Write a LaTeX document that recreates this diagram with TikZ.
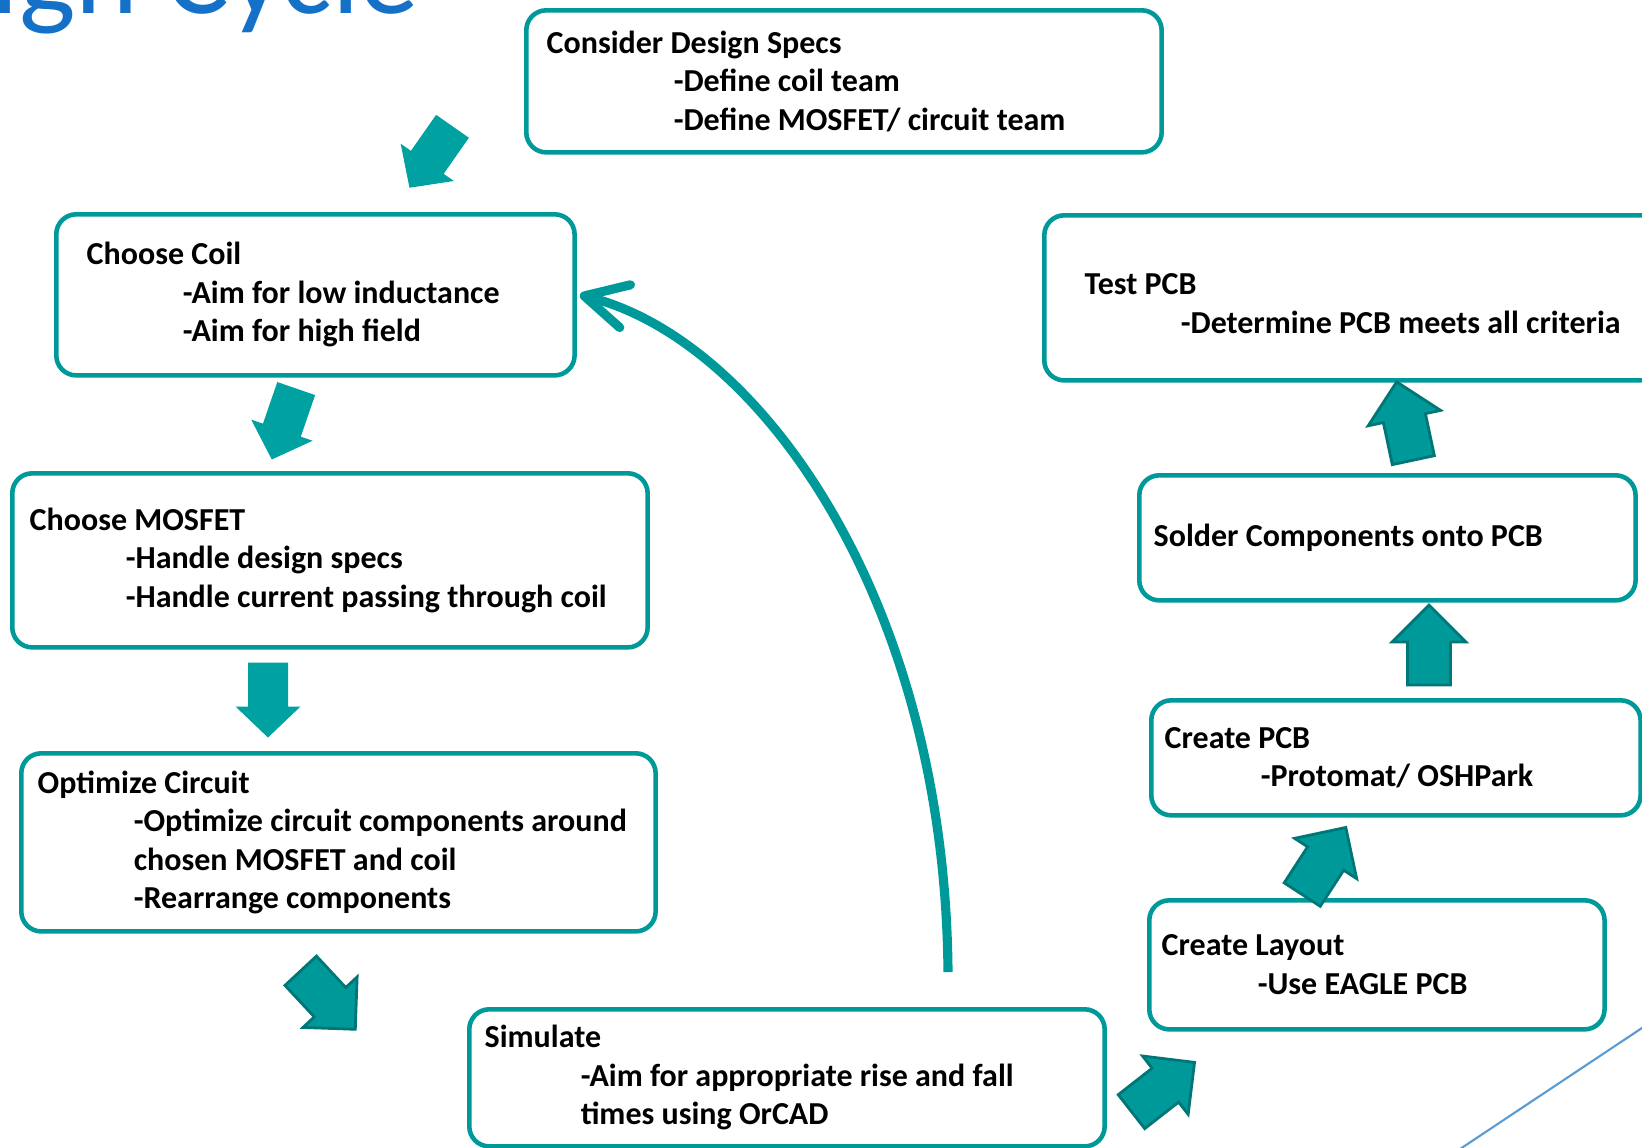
\documentclass[tikz,border=0pt]{standalone}
\usepackage{fontspec}
\setmainfont{Carlito}
\usepackage{tikz}
\usetikzlibrary{arrows.meta}
\usepackage{xcolor}

\definecolor{tealbox}{RGB}{0,153,153}
\definecolor{tealdark}{RGB}{0,118,118}
\definecolor{titleblue}{RGB}{21,112,200}
\definecolor{lineblue}{RGB}{91,155,213}

\newcommand{\ind}{\hspace*{0.96cm}}
% flat block arrow with dark rim
\newcommand{\blockarr}[3]{%
  \draw[blk, shift={(#1,#2)}, rotate=#3] (-40,-21.5) -- (3,-21.5) -- (3,-37) -- (40,0) -- (3,37) -- (3,21.5) -- (-40,21.5) -- cycle;}
% soft block arrow, no rim
\newcommand{\softarr}[3]{%
  \fill[softblk, shift={(#1,#2)}, rotate=#3] (-37.5,-20) -- (6.5,-20) -- (6.5,-32.5) -- (37.5,0) -- (6.5,32.5) -- (6.5,20) -- (-37.5,20) -- cycle;}

\begin{document}
\begin{tikzpicture}[
        x=0.01cm, y=-0.01cm,
        >=Stealth,
        every node/.style={font=\fontsize{9.1}{10.95}\selectfont\bfseries},
        box/.style={draw=tealbox, line width=1.3pt, rounded corners=0.2cm, anchor=north west, inner sep=0pt},
        txt/.style={anchor=west, align=left, inner sep=0pt},
        blk/.style={fill=tealbox, draw=tealdark, line width=0.8pt},
        softblk/.style={fill=tealbox!92!cyan},
        back/.style={draw=tealbox, line width=2.6pt, -{Straight Barb[round, length=0.42cm, width=0.44cm]}}
    ]

    \useasboundingbox (0,0) rectangle (1642,1147);

    \node[anchor=base east, inner sep=0pt, text=titleblue, font=\fontsize{34}{40}\selectfont] (title) at (420,13) {Design Cycle};

    \node[box, minimum width=6.35cm, minimum height=1.42cm] (specs) at (524,8) {};
    \node[txt] (specsT) at ([xshift=0.22cm]specs.west) {Consider Design Specs\\ \hspace*{1.27cm}-Define coil team\\ \hspace*{1.27cm}-Define MOSFET/ circuit team};

    \node[box, minimum width=5.18cm, minimum height=1.61cm] (coil) at (54,212) {};
    \node[txt] (coilT) at ([xshift=0.32cm]coil.west) {Choose Coil\\ \ind-Aim for low inductance\\ \ind-Aim for high field};

    \node[box, minimum width=6.35cm, minimum height=1.74cm] (mosfet) at (10,471) {};
    \node[txt] (mosfetT) at ([xshift=0.19cm]mosfet.west) {Choose MOSFET\\ \ind-Handle design specs\\ \ind-Handle current passing through coil};

    \node[box, minimum width=6.34cm, minimum height=1.78cm] (optim) at (19,751) {};
    \node[txt] (optimT) at ([xshift=0.18cm]optim.west) {Optimize Circuit\\ \ind-Optimize circuit components around\\ \ind chosen MOSFET and coil\\ \ind-Rearrange components};

    \node[box, minimum width=6.35cm, minimum height=1.37cm] (sim) at (467,1007) {};
    \node[txt] (simT) at ([xshift=0.17cm]sim.west) {Simulate\\ \ind-Aim for appropriate rise and fall\\ \ind times using OrCAD};

    \node[box, minimum width=4.55cm, minimum height=1.29cm] (layout) at (1147,898) {};
    \node[txt] (layoutT) at ([xshift=0.14cm]layout.west) {Create Layout\\ \ind-Use EAGLE PCB};

    \node[box, minimum width=4.89cm, minimum height=1.15cm] (pcb) at (1149,698) {};
    \node[txt] (pcbT) at ([xshift=0.15cm]pcb.west) {Create PCB\\ \ind-Protomat/ OSHPark};

    \node[box, minimum width=4.96cm, minimum height=1.25cm] (solder) at (1137,473) {};
    \node[txt] (solderT) at ([xshift=0.16cm]solder.west) {Solder Components onto PCB};

    \node[box, minimum width=6.2cm, minimum height=1.65cm] (test) at (1042,213) {};
    \node[txt] (testT) at ([xshift=0.42cm, yshift=-0.06cm]test.west) {Test PCB\\ \ind-Determine PCB meets all criteria};

    \softarr{431}{157}{-125}
    \softarr{284}{424}{-109}
    \softarr{268}{700}{-90}
    \blockarr{328}{1000}{-47}
    \blockarr{1163}{1087}{38}
    \blockarr{1324}{861}{57}
    \blockarr{1429}{645}{90}
    \blockarr{1405}{421}{102}

    \coordinate (backStart) at (948,972);
    \draw[back] (backStart) .. controls (945,600) and (760,340) .. ([xshift=0.03cm]coil.east);

    \coordinate (lineA) at (1660,1016);
    \coordinate (lineB) at (1445,1159);
    \draw[lineblue, line width=0.6pt] (lineA) -- (lineB);

    \end{tikzpicture}
\end{document}
